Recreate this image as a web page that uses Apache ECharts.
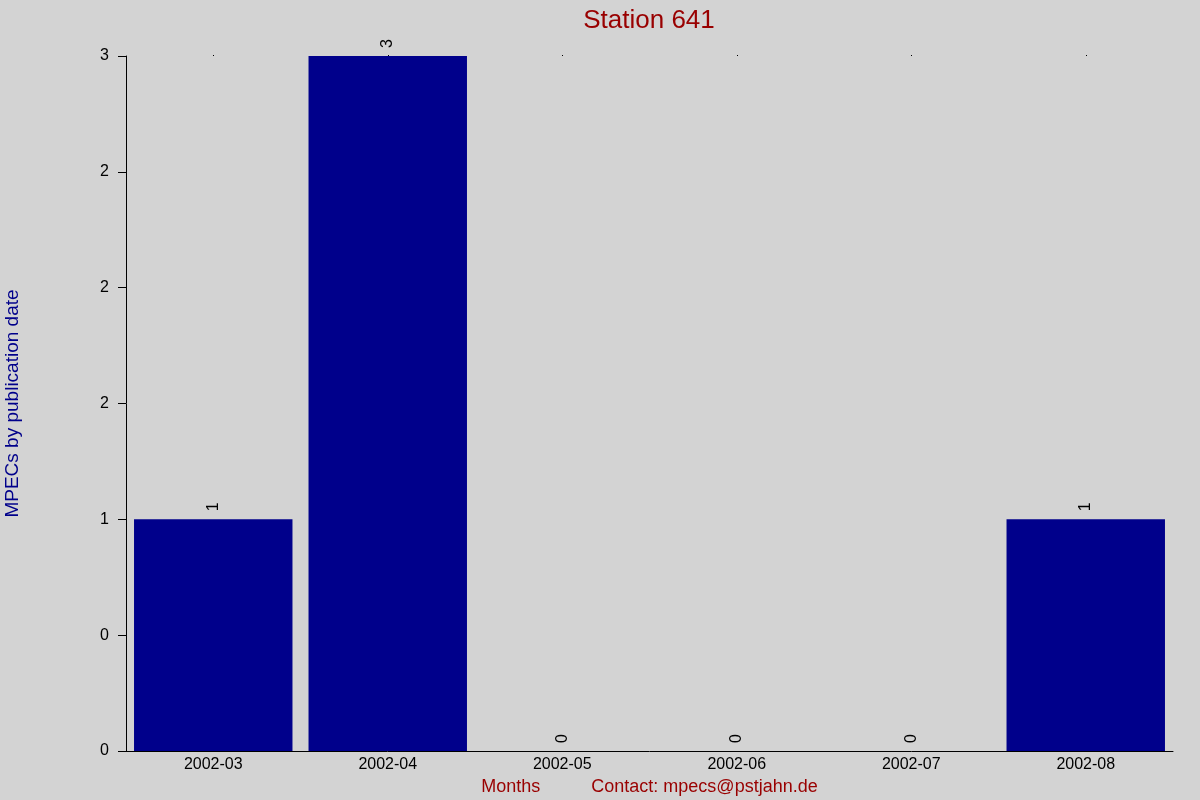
<!DOCTYPE html>
<html>
<head>
<meta charset="utf-8">
<script src="https://cdn.jsdelivr.net/npm/echarts@6/dist/echarts.min.js"></script>
<style>
    html, body { margin: 0; padding: 0; background: #d3d3d3; }
    #chart { width: 1200px; height: 800px; }
</style>
</head>
<body>
<div id="chart"></div>
<script>
// data
const months = ['2002-03', '2002-04', '2002-05', '2002-06', '2002-07', '2002-08'];
const counts = [1, 3, 0, 0, 0, 1];
// the y ticks go in steps of 0.5 but are printed rounded
const yTickLabels = ['0', '0', '1', '2', '2', '2', '3'];

const chart = echarts.init(document.getElementById('chart'));
const FONT = '"Liberation Sans", Arial, sans-serif';

const option = {
    backgroundColor: '#d3d3d3',
    animation: false,
    textStyle: { fontFamily: FONT },
    title: {
        text: 'Station 641',
        left: 644,
        textAlign: 'center',
        top: 3,
        textStyle: { color: '#990000', fontSize: 26, fontWeight: 'normal', fontFamily: FONT }
    },
    grid: { left: 126, right: 27, top: 56, bottom: 49, containLabel: false, outerBoundsMode: 'none' },
    xAxis: [{
        type: 'category',
        data: months,
        position: 'bottom',
        axisLine: { lineStyle: { color: '#000', width: 1 } },
        axisTick: { show: false },
        axisLabel: { color: '#000', fontSize: 16, margin: 6, fontFamily: FONT },
        name: '{a|Months}{b|Contact: mpecs@pstjahn.de}',
        nameLocation: 'middle',
        nameGap: 27,
        nameTextStyle: {
            rich: {
                a: { color: '#990000', fontSize: 18, fontFamily: FONT },
                b: { color: '#990000', fontSize: 18, fontFamily: FONT, padding: [0, 0, 0, 51] }
            }
        }
    }, {
        // tiny dots along the top edge
        type: 'category',
        data: months,
        position: 'top',
        axisLine: { show: false },
        axisTick: { show: true, length: 1, alignWithLabel: true, lineStyle: { color: '#000' } },
        axisLabel: { show: false }
    }],
    yAxis: {
        type: 'value',
        min: 0,
        max: 3,
        interval: 0.5,
        splitLine: { show: false },
        axisLine: { show: true, lineStyle: { color: '#000', width: 1 } },
        axisTick: { show: true, length: 8, lineStyle: { color: '#000' } },
        axisLabel: {
            color: '#000',
            fontSize: 16,
            margin: 17,
            fontFamily: FONT,
            formatter: (v) => yTickLabels[Math.round(v * 2)]
        },
        name: 'MPECs by publication date',
        nameLocation: 'middle',
        nameGap: 104,
        nameTextStyle: { color: '#00008b', fontSize: 19, fontFamily: FONT }
    },
    series: [{
        type: 'bar',
        data: counts,
        xAxisIndex: 0,
        barCategoryGap: '9.2%',
        itemStyle: { color: '#00008b' },
        label: {
            show: true,
            position: 'top',
            distance: 8,
            rotate: 90,
            align: 'left',
            verticalAlign: 'middle',
            color: '#000',
            fontSize: 16,
            fontFamily: FONT
        }
    }]
};

chart.setOption(option);
window.addEventListener('resize', () => { chart.resize(); });
</script>
</body>
</html>
